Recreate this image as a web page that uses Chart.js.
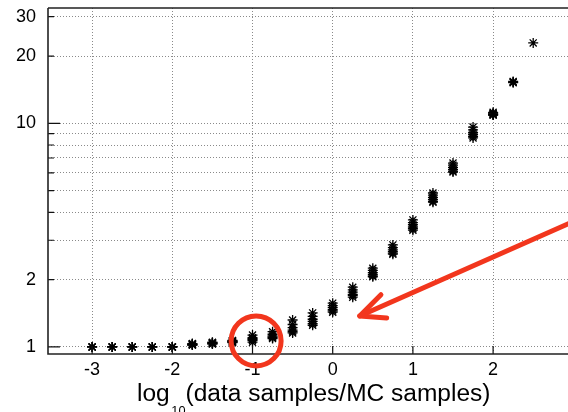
<!DOCTYPE html>
<html><head><meta charset="utf-8">
<style>
html,body{margin:0;padding:0;overflow:hidden;background:#fff;width:568px;height:412px}
canvas{display:block}
</style>
<script src="https://cdn.jsdelivr.net/npm/chart.js@4/dist/chart.umd.min.js"></script>
</head><body>
<canvas id="c" width="620" height="412"></canvas>
<script>
// ---- data ----
const xValues = [-3,-2.75,-2.5,-2.25,-2,-1.75,-1.5,-1.25,-1,-0.75,-0.5,-0.25,0,0.25,0.5,0.75,1,1.25,1.5,1.75,2,2.25,2.5];
const run1 = [1.00,1.00,1.00,1.00,1.00,1.035,1.05,1.07,1.13,1.17,1.32,1.42,1.57,1.85,2.25,2.86,3.70,4.88,6.64,9.62,11.2,15.3,22.9];
const run2 = [1.00,1.00,1.00,1.00,1.00,1.03,1.045,1.065,1.10,1.14,1.26,1.37,1.53,1.80,2.20,2.78,3.60,4.78,6.50,9.35,11.1,15.2,null];
const run3 = [1.00,1.00,1.00,1.00,1.00,1.03,1.04,1.06,1.09,1.12,1.22,1.33,1.50,1.76,2.15,2.72,3.52,4.66,6.35,9.10,11.0,15.4,null];
const run4 = [null,null,null,null,1.00,1.025,1.04,1.055,1.08,1.11,1.19,1.30,1.47,1.72,2.11,2.67,3.44,4.56,6.22,8.90,11.0,null,null];
const run5 = [null,null,null,null,null,1.02,1.035,1.05,1.07,1.10,1.17,1.27,1.45,1.70,2.08,2.63,3.38,4.48,6.12,8.75,10.9,null,null];
const run6 = [null,null,null,null,null,1.02,1.03,1.045,1.05,1.09,1.155,1.25,1.43,1.67,2.06,2.60,3.33,4.44,6.06,8.61,10.9,null,null];
const runs = [run1, run2, run3, run4, run5, run6];

const xTickValues = [-3,-2,-1,0,1,2,3];
const yGridValues = [1,2,3,4,5,6,7,8,9,10,20,30];
const yTickLabels = [1,2,10,20,30];
const titleParts = ['log', '10', '(data samples/MC samples)'];

// annotation anchors (data coordinates)
const circleAt = {x:-0.955, y:1.064};
const arrowTip = {x:0.337, y:1.376};
const arrowTail = {x:3.1, y:3.77};

const FONT = '"Liberation Sans", Arial, Helvetica, sans-serif';

const frame = {
  id:'frame',
  afterDatasetsDraw(chart){
    const {ctx, chartArea:a, scales:{x,y}} = chart;
    ctx.save();
    ctx.setLineDash([]);
    ctx.strokeStyle = '#111'; ctx.lineWidth = 1.2;
    ctx.beginPath();
    yGridValues.forEach(v => {
      const py = y.getPixelForValue(v);
      const len = (v === 1 || v === 10) ? 12 : 6;
      ctx.moveTo(a.left, py); ctx.lineTo(a.left + len, py);
    });
    xTickValues.forEach(v => {
      const px = x.getPixelForValue(v);
      ctx.moveTo(px, a.bottom); ctx.lineTo(px, a.bottom - 8);
    });
    ctx.stroke();
    ctx.strokeStyle = '#222'; ctx.lineWidth = 1.6;
    ctx.beginPath();
    ctx.moveTo(a.left, a.top); ctx.lineTo(a.right, a.top);
    ctx.moveTo(a.left, a.top); ctx.lineTo(a.left, a.bottom); ctx.lineTo(a.right, a.bottom);
    ctx.stroke();
    ctx.restore();
  }
};

const marks = {
  id:'marks',
  afterDraw(chart){
    const {ctx, scales:{x,y}} = chart;
    ctx.save();
    ctx.strokeStyle = '#f2361d'; ctx.lineCap = 'round'; ctx.lineJoin = 'round';
    ctx.lineWidth = 5;
    ctx.beginPath();
    ctx.arc(x.getPixelForValue(circleAt.x), y.getPixelForValue(circleAt.y), 25, 0, Math.PI*2);
    ctx.stroke();
    const tx = x.getPixelForValue(arrowTip.x), ty = y.getPixelForValue(arrowTip.y);
    const sx = x.getPixelForValue(arrowTail.x), sy = y.getPixelForValue(arrowTail.y);
    ctx.lineWidth = 5;
    ctx.beginPath(); ctx.moveTo(sx, sy); ctx.lineTo(tx, ty); ctx.stroke();
    const ang = Math.atan2(sy - ty, sx - tx);
    ctx.beginPath();
    ctx.moveTo(tx + 30*Math.cos(ang - 0.37), ty + 30*Math.sin(ang - 0.37));
    ctx.lineTo(tx, ty);
    ctx.lineTo(tx + 27*Math.cos(ang + 0.49), ty + 27*Math.sin(ang + 0.49));
    ctx.stroke();
    ctx.restore();
  }
};

const xTitle = {
  id:'xTitle',
  afterDraw(chart){
    const {ctx, chartArea:a} = chart;
    ctx.save();
    ctx.fillStyle = '#000'; ctx.textBaseline = 'alphabetic'; ctx.textAlign = 'left';
    ctx.translate(a.left + 89, 401);
    ctx.scale(1.065, 1);
    ctx.font = '23px ' + FONT;
    ctx.fillText(titleParts[0], 0, 0);
    let w = ctx.measureText(titleParts[0]).width + 1.5;
    ctx.font = '12px ' + FONT;
    ctx.fillText(titleParts[1], w, 14);
    w += ctx.measureText(titleParts[1]).width;
    ctx.font = '23px ' + FONT;
    ctx.fillText(titleParts[2], w, 0);
    ctx.restore();
  }
};

const datasets = runs.map((r, k) => ({
  label: 'run ' + (k+1),
  data: xValues.map((xv, i) => ({x: xv, y: r[i]})).filter(p => p.y !== null),
  showLine: false,
  pointStyle: 'star',
  pointRadius: 5,
  pointBorderWidth: 1.3,
  borderColor: '#000',
  backgroundColor: '#000'
}));

new Chart(document.getElementById('c'), {
  type: 'scatter',
  data: { datasets },
  options: {
    responsive: false,
    devicePixelRatio: 1,
    animation: false,
    layout: { padding: { left: 0, top: 8, right: 6.6, bottom: 0 } },
    plugins: { legend: { display: false }, tooltip: { enabled: false } },
    scales: {
      x: {
        type: 'linear', min: -3.55, max: 3.5,
        afterBuildTicks: s => { s.ticks = xTickValues.map(v => ({value: v})); },
        afterFit: s => { s.height = 58; s.paddingLeft = 0; s.paddingRight = 0; },
        grid: { color: '#8a8a8a', lineWidth: 1, drawTicks: false },
        border: { display: false, dash: [1, 2] },
        ticks: { color: '#000', font: { size: 18, family: FONT }, padding: 5, maxRotation: 0,
                 callback: v => String(v) }
      },
      y: {
        type: 'logarithmic', min: 0.93, max: 32.8,
        afterBuildTicks: s => { s.ticks = yGridValues.map(v => ({value: v})); },
        afterFit: s => { s.width = 48; s.paddingTop = 0; s.paddingBottom = 0; },
        grid: { color: '#8a8a8a', lineWidth: 1, drawTicks: false },
        border: { display: false, dash: [1, 2] },
        ticks: { color: '#000', font: { size: 18, family: FONT }, padding: 12, autoSkip: false,
                 callback: v => yTickLabels.includes(v) ? String(v) : '' }
      }
    }
  },
  plugins: [frame, marks, xTitle]
});
</script>
</body></html>
